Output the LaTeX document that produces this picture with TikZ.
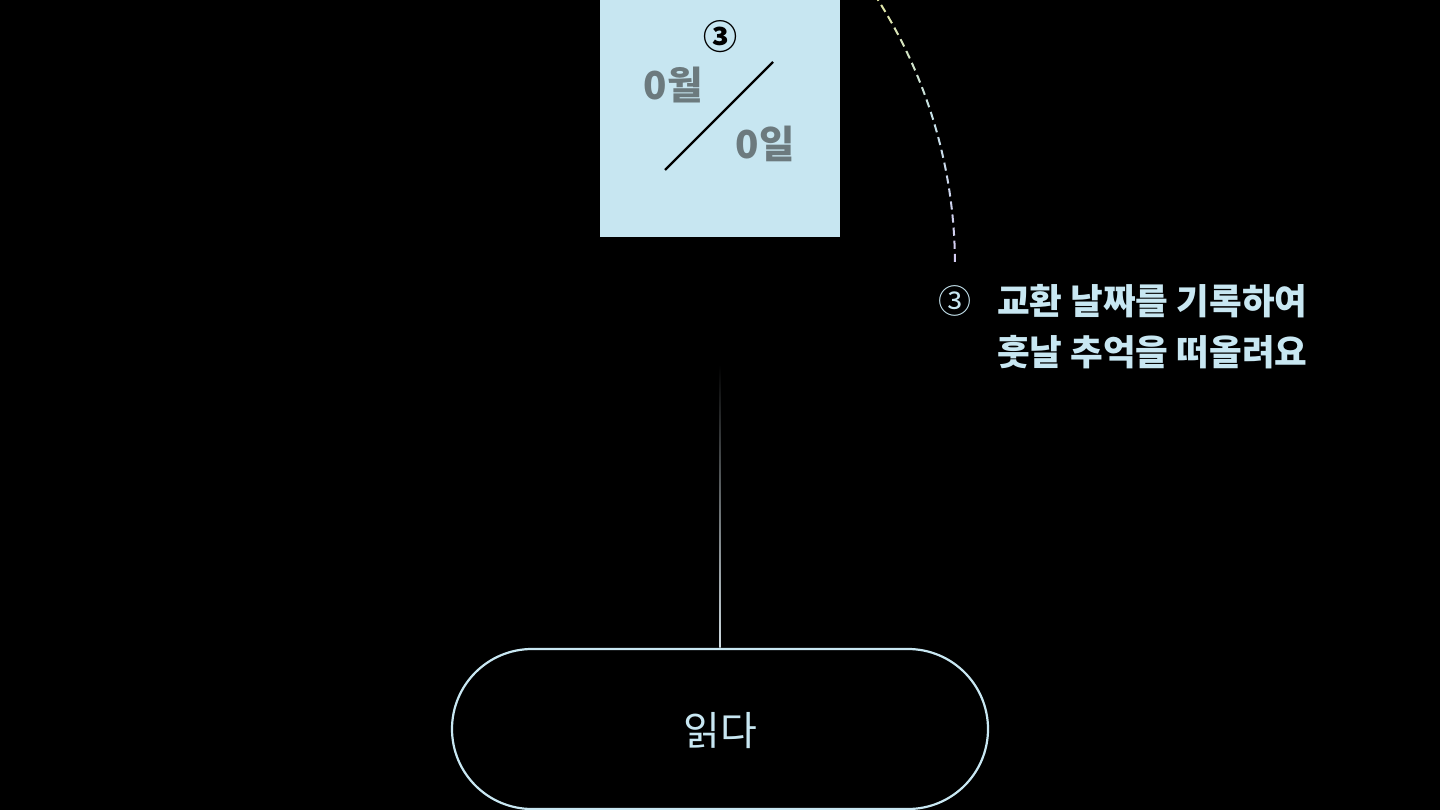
\documentclass[tikz,border=0pt]{standalone}
\usepackage{fontspec}
\newfontfamily\kr{Noto Sans CJK KR}
\definecolor{lblue}{HTML}{C8E7F2}
\definecolor{boxfill}{HTML}{C7E6F1}
\definecolor{graytxt}{HTML}{6C7A7E}
\definecolor{dashA}{HTML}{E6E89C}
\definecolor{dashB}{HTML}{C4E0E6}
\definecolor{dashC}{HTML}{D4CCF2}
\definecolor{lineend}{HTML}{D0DCE2}
\tikzset{
  pill/.style={draw=lblue, line width=2.2pt, rounded corners=80pt, minimum width=536pt, minimum height=160pt, inner sep=0pt, text=lblue},
  pilltxt/.style={inner sep=0pt, text=lblue, font=\kr\fontsize{40}{44}\selectfont},
  note/.style={anchor=west, inner sep=0pt, text=lblue, font=\kr\bfseries\fontsize{35.5}{40}\selectfont},
  datetxt/.style={inner sep=0pt, text=graytxt, font=\kr\bfseries\fontsize{38.5}{42}\selectfont},
}
\begin{document}
\begin{tikzpicture}[x=1pt,y=-1pt]
\fill[black] (0,0) rectangle (1440,810);
\useasboundingbox (0,0) rectangle (1440,810);
% top box
\fill[boxfill] (600,-20) rectangle (840,237);
\node[inner sep=0pt, font=\kr\bfseries\fontsize{34}{36}\selectfont, text=black] (circ) at (720,37) {③};
\node[datetxt] (month) at (673,85) {0월};
\node[datetxt] (day) at (765,144) {0일};
\coordinate (sa) at (665,170);
\coordinate (sb) at (773,62);
\draw[black, line width=2.4pt] (sa) -- (sb);
% dashed arc
\foreach \i in {0,...,24} {
  \pgfmathsetmacro{\aa}{0.35+\i*1.52}
  \pgfmathsetmacro{\ab}{\aa+0.95}
  \pgfmathsetmacro{\mixv}{min(100,\i*100/22)}
  \ifdim\mixv pt<50pt
    \pgfmathsetmacro{\mm}{100-2*\mixv}
    \colorlet{dc}{dashC!\mm!dashB}
  \else
    \pgfmathsetmacro{\mm}{2*\mixv-100}
    \colorlet{dc}{dashA!\mm!dashB}
  \fi
  \draw[dc, line width=2pt] ({460+495*cos(\aa)},{265-495*sin(\aa)}) -- ({460+495*cos(\ab)},{265-495*sin(\ab)});
}
% note text
\node[inner sep=0pt, text=lblue, font=\kr\fontsize{33}{36}\selectfont] (ncirc) at (955,301) {③};
\node[note] (l1) at (997,301) {교환 날짜를 기록하여};
\node[note] (l2) at (997,352) {훗날 추억을 떠올려요};
% pill and line
\node[pill] (read) at (720,729) {};
\node[pilltxt] (readtxt) at (720,731) {읽다};
\coordinate (ltop) at (720,365);
\shade[top color=black, bottom color=lineend] ([xshift=-0.6pt]ltop) rectangle ([xshift=0.6pt]read.north);
\end{tikzpicture}
\end{document}
